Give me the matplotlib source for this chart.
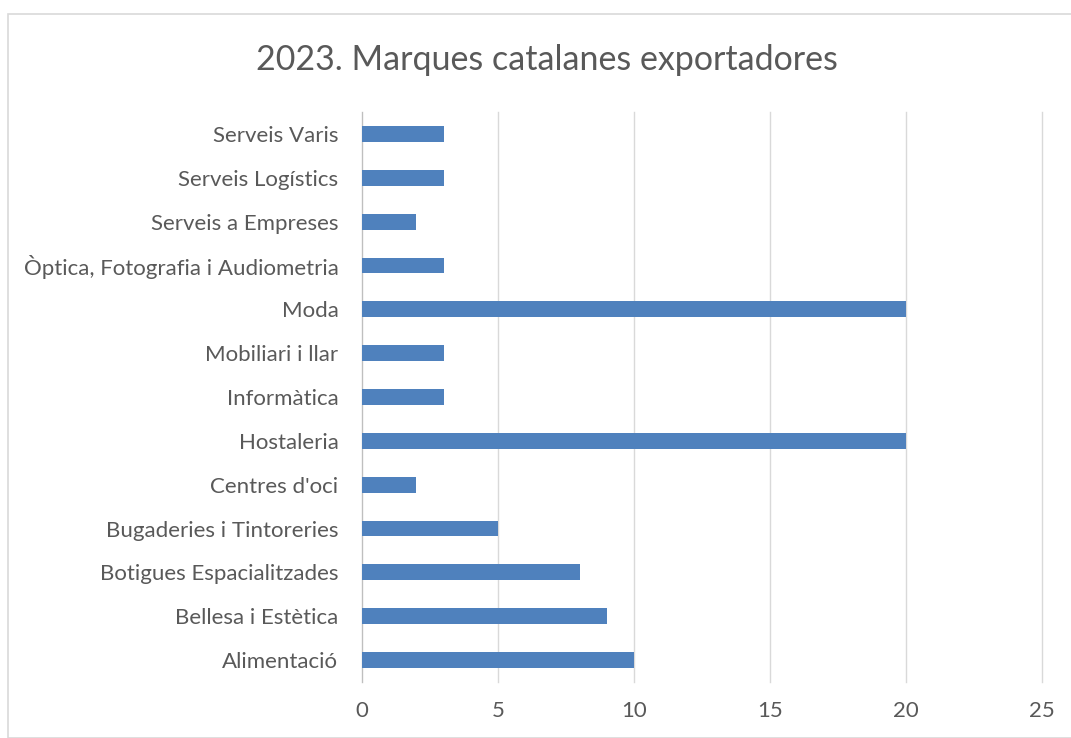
import matplotlib.pyplot as plt
from matplotlib.patches import Rectangle

categories = ["Alimentació", "Bellesa i Estètica", "Botigues Espacialitzades",
              "Bugaderies i Tintoreries", "Centres d'oci", "Hostaleria",
              "Informàtica", "Mobiliari i llar", "Moda",
              "Òptica, Fotografia i Audiometria", "Serveis a Empreses",
              "Serveis Logístics", "Serveis Varis"]
values = [10, 9, 8, 5, 2, 20, 3, 3, 20, 3, 2, 3, 3]
x_ticks = [0, 5, 10, 15, 20, 25]

plt.rcParams['font.family'] = ['Lato', 'DejaVu Sans']
text_color = '#595959'

fig = plt.figure(figsize=(10.71, 7.38), dpi=100)
ax = fig.add_axes([362/1071, 1-682/738, (1042-362)/1071, (682-112)/738])

# chart border
fig.patches.append(Rectangle((8/1071, 0), 1.2, 1-14/738, transform=fig.transFigure,
                             fill=False, edgecolor='#D9D9D9', linewidth=1.2))

ypos = range(len(categories))
ax.barh(ypos, values, height=0.36, color='#4F81BD', zorder=3)
ax.set_yticks(list(ypos))
ax.set_yticklabels(categories, fontsize=16, color=text_color)
ax.set_ylim(-0.5, len(categories) - 0.5)
ax.set_xlim(0, 25)
ax.set_xticks(x_ticks)
ax.set_xticklabels([str(t) for t in x_ticks], fontsize=16, color=text_color)
ax.tick_params(length=0)
ax.tick_params(axis='y', pad=17)
ax.tick_params(axis='x', pad=14)
ax.grid(axis='x', color='#D9D9D9', linewidth=1, zorder=0)
for gl in ax.get_xgridlines():
    gl.set_clip_on(False)
for s in ['top', 'right', 'bottom']:
    ax.spines[s].set_visible(False)
ax.spines['left'].set_color('#BFBFBF')

fig.text(546.5/1071, 1-60/738, "2023. Marques catalanes exportadores",
         ha='center', va='center', fontsize=24.5, color=text_color)

fig.savefig('out.png', dpi=100)
